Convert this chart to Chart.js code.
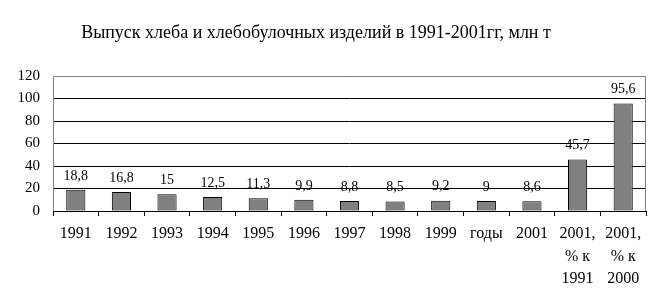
<!DOCTYPE html>
<html>
<head>
<meta charset="utf-8">
<script src="https://cdn.jsdelivr.net/npm/chart.js@4/dist/chart.umd.min.js"></script>
<style>
  html, body { margin: 0; padding: 0; background: #fff; }
  #wrap { width: 661px; height: 307px; }
</style>
</head>
<body>
<div id="wrap"><canvas id="chart" width="661" height="307"></canvas></div>
<script>
const categories = [
  '1991', '1992', '1993', '1994', '1995', '1996', '1997', '1998', '1999', 'годы', '2001',
  ['2001,', '% к', '1991'], ['2001,', '% к', '2000'],
];
const values = [18.8, 16.8, 15, 12.5, 11.3, 9.9, 8.8, 8.5, 9.2, 9, 8.6, 45.7, 95.6];
const yTicks = [0, 20, 40, 60, 80, 100, 120];
const titleText = 'Выпуск хлеба и хлебобулочных изделий в 1991-2001гг, млн т';

const SERIF = '"Liberation Serif", "Times New Roman", serif';

// заголовок: рисуем сами, чтобы центр совпал с оригиналом
const chartTitle = {
  id: 'chartTitle',
  afterDraw(chart) {
    const { ctx } = chart;
    ctx.save();
    ctx.font = '18px ' + SERIF;
    ctx.fillStyle = '#000';
    ctx.textAlign = 'center';
    ctx.textBaseline = 'middle';
    ctx.fillText(titleText, 316, 33);
    ctx.restore();
  },
};

// подписи значений над столбцами (рисуем до сетки, чтобы линии шли поверх)
const valueLabels = {
  id: 'valueLabels',
  beforeDraw(chart) {
    const { ctx } = chart;
    const meta = chart.getDatasetMeta(0);
    ctx.save();
    ctx.font = '14px ' + SERIF;
    ctx.fillStyle = '#000';
    ctx.textAlign = 'center';
    ctx.textBaseline = 'bottom';
    meta.data.forEach((bar, i) => {
      ctx.fillText(String(values[i]).replace('.', ','), bar.x, bar.y - 7);
    });
    ctx.restore();
  },
};

// серая рамка области построения
const plotFrame = {
  id: 'plotFrame',
  beforeDatasetsDraw(chart) {
    const { ctx, chartArea: a } = chart;
    ctx.save();
    ctx.strokeStyle = '#808080';
    ctx.lineWidth = 1;
    ctx.beginPath();
    ctx.moveTo(a.left + 0.5, a.bottom);
    ctx.lineTo(a.left + 0.5, a.top + 0.5);
    ctx.lineTo(a.right - 0.5, a.top + 0.5);
    ctx.lineTo(a.right - 0.5, a.bottom);
    ctx.stroke();
    ctx.restore();
  },
};

new Chart(document.getElementById('chart'), {
  type: 'bar',
  data: {
    labels: categories,
    datasets: [{
      data: values,
      backgroundColor: '#808080',
      borderColor: '#000',
      borderWidth: 1,
      borderSkipped: false,
      barPercentage: 0.42,
      categoryPercentage: 1,
    }],
  },
  plugins: [valueLabels, plotFrame, chartTitle],
  options: {
    responsive: false,
    animation: false,
    events: [],
    layout: { padding: { left: 0, right: 15, top: 76, bottom: 0 } },
    plugins: {
      legend: { display: false },
      tooltip: { enabled: false },
      title: { display: false },
    },
    scales: {
      x: {
        grid: { display: true, drawOnChartArea: false, drawTicks: true, tickLength: 5, color: '#000', offset: true },
        border: { display: true, color: '#000' },
        ticks: {
          color: '#000',
          font: { family: SERIF, size: 16, lineHeight: 1.4 },
          padding: 7,
          maxRotation: 0,
          autoSkip: false,
        },
        afterFit(scale) { scale.height = 96; },
      },
      y: {
        min: 0,
        max: 120,
        afterBuildTicks(scale) { scale.ticks = yTicks.map((v) => ({ value: v })); },
        grid: {
          drawTicks: false,
          color: (c) => (c.tick && (c.tick.value === 0 || c.tick.value === 120) ? 'rgba(0,0,0,0)' : '#000'),
        },
        border: { display: false },
        ticks: {
          color: '#000',
          font: { family: SERIF, size: 15 },
          padding: 13,
        },
        afterFit(scale) { scale.width = 53; },
      },
    },
  },
});
</script>
</body>
</html>
